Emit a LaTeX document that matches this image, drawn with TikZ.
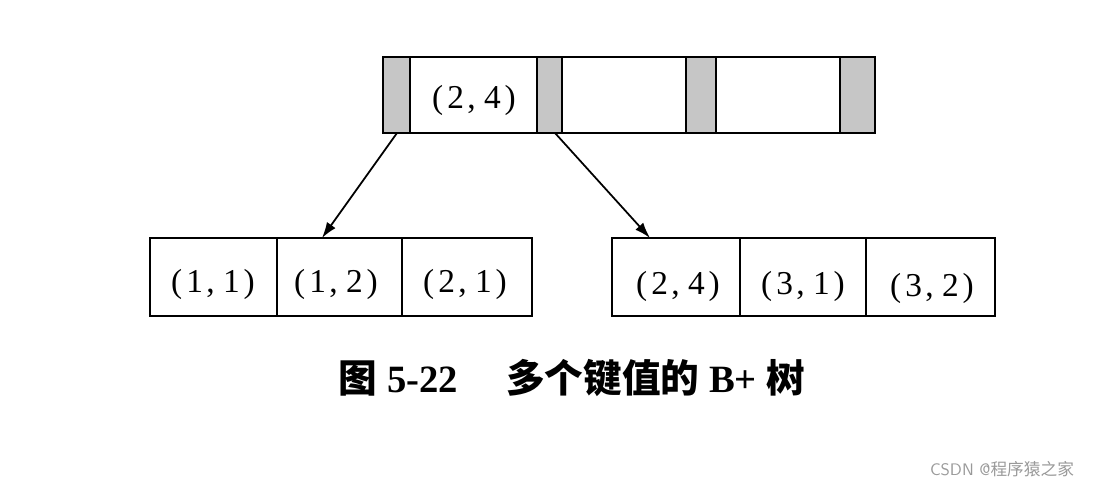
\documentclass[tikz,border=0pt]{standalone}
\usepackage{fontspec}
\setmainfont{Liberation Serif}
\newfontfamily\cjk{Noto Sans CJK SC}
\usetikzlibrary{arrows.meta}
\newcommand{\pr}[2]{(\hspace{0.12em}#1\hspace{0.1em},\hspace{0.25em}#2\hspace{0.12em})}
\begin{document}
\begin{tikzpicture}[x=0.02cm,y=-0.02cm,
  cell/.style={draw,line width=1.2pt},
  sh/.style={draw,line width=1.2pt,fill=gray!45},
  lbl/.style={font=\fontsize{19}{22}\selectfont},
  arr/.style={-{Latex[length=9pt,width=6pt]},line width=1pt}]
\useasboundingbox (0,0) rectangle (1096,496);
% top node
\draw[cell] (383,57) rectangle (875,133);
\draw[sh] (383,57) rectangle (410,133);
\draw[sh] (537,57) rectangle (562,133);
\draw[sh] (686,57) rectangle (716,133);
\draw[sh] (840,57) rectangle (875,133);
\node[lbl] (k) at (474,100) {\pr{2}{4}};
\coordinate (p1) at (397,133);
\coordinate (p2) at (555,133);
% left leaf
\draw[cell] (150,238) rectangle (532,316);
\draw[cell] (277,238) -- (277,316);
\draw[cell] (402,238) -- (402,316);
\node[lbl] (a1) at (213,284) {\pr{1}{1}};
\node[lbl] (a2) at (336,284) {\pr{1}{2}};
\node[lbl] (a3) at (465,284) {\pr{2}{1}};
% right leaf
\draw[cell] (612,238) rectangle (995,316);
\draw[cell] (740,238) -- (740,316);
\draw[cell] (866,238) -- (866,316);
\node[lbl] (b1) at (678,286) {\pr{2}{4}};
\node[lbl] (b2) at (803,286) {\pr{3}{1}};
\node[lbl] (b3) at (932,288) {\pr{3}{2}};
\coordinate (l) at (322,238);
\coordinate (r) at (650,238);
\draw[arr] (p1) -- (l);
\draw[arr] (p2) -- (r);
\node[font=\fontsize{22}{26}\selectfont\bfseries] (cap) at (572,378) {{\cjk 图} 5-22\quad\ {\cjk 多个键值的} B+ {\cjk 树}};
\node[text=gray!80,font=\fontsize{9.5}{11}\selectfont\sffamily] (wm) at (1002,469) {CSDN @{\cjk 程序猿之家}};
\end{tikzpicture}
\end{document}
